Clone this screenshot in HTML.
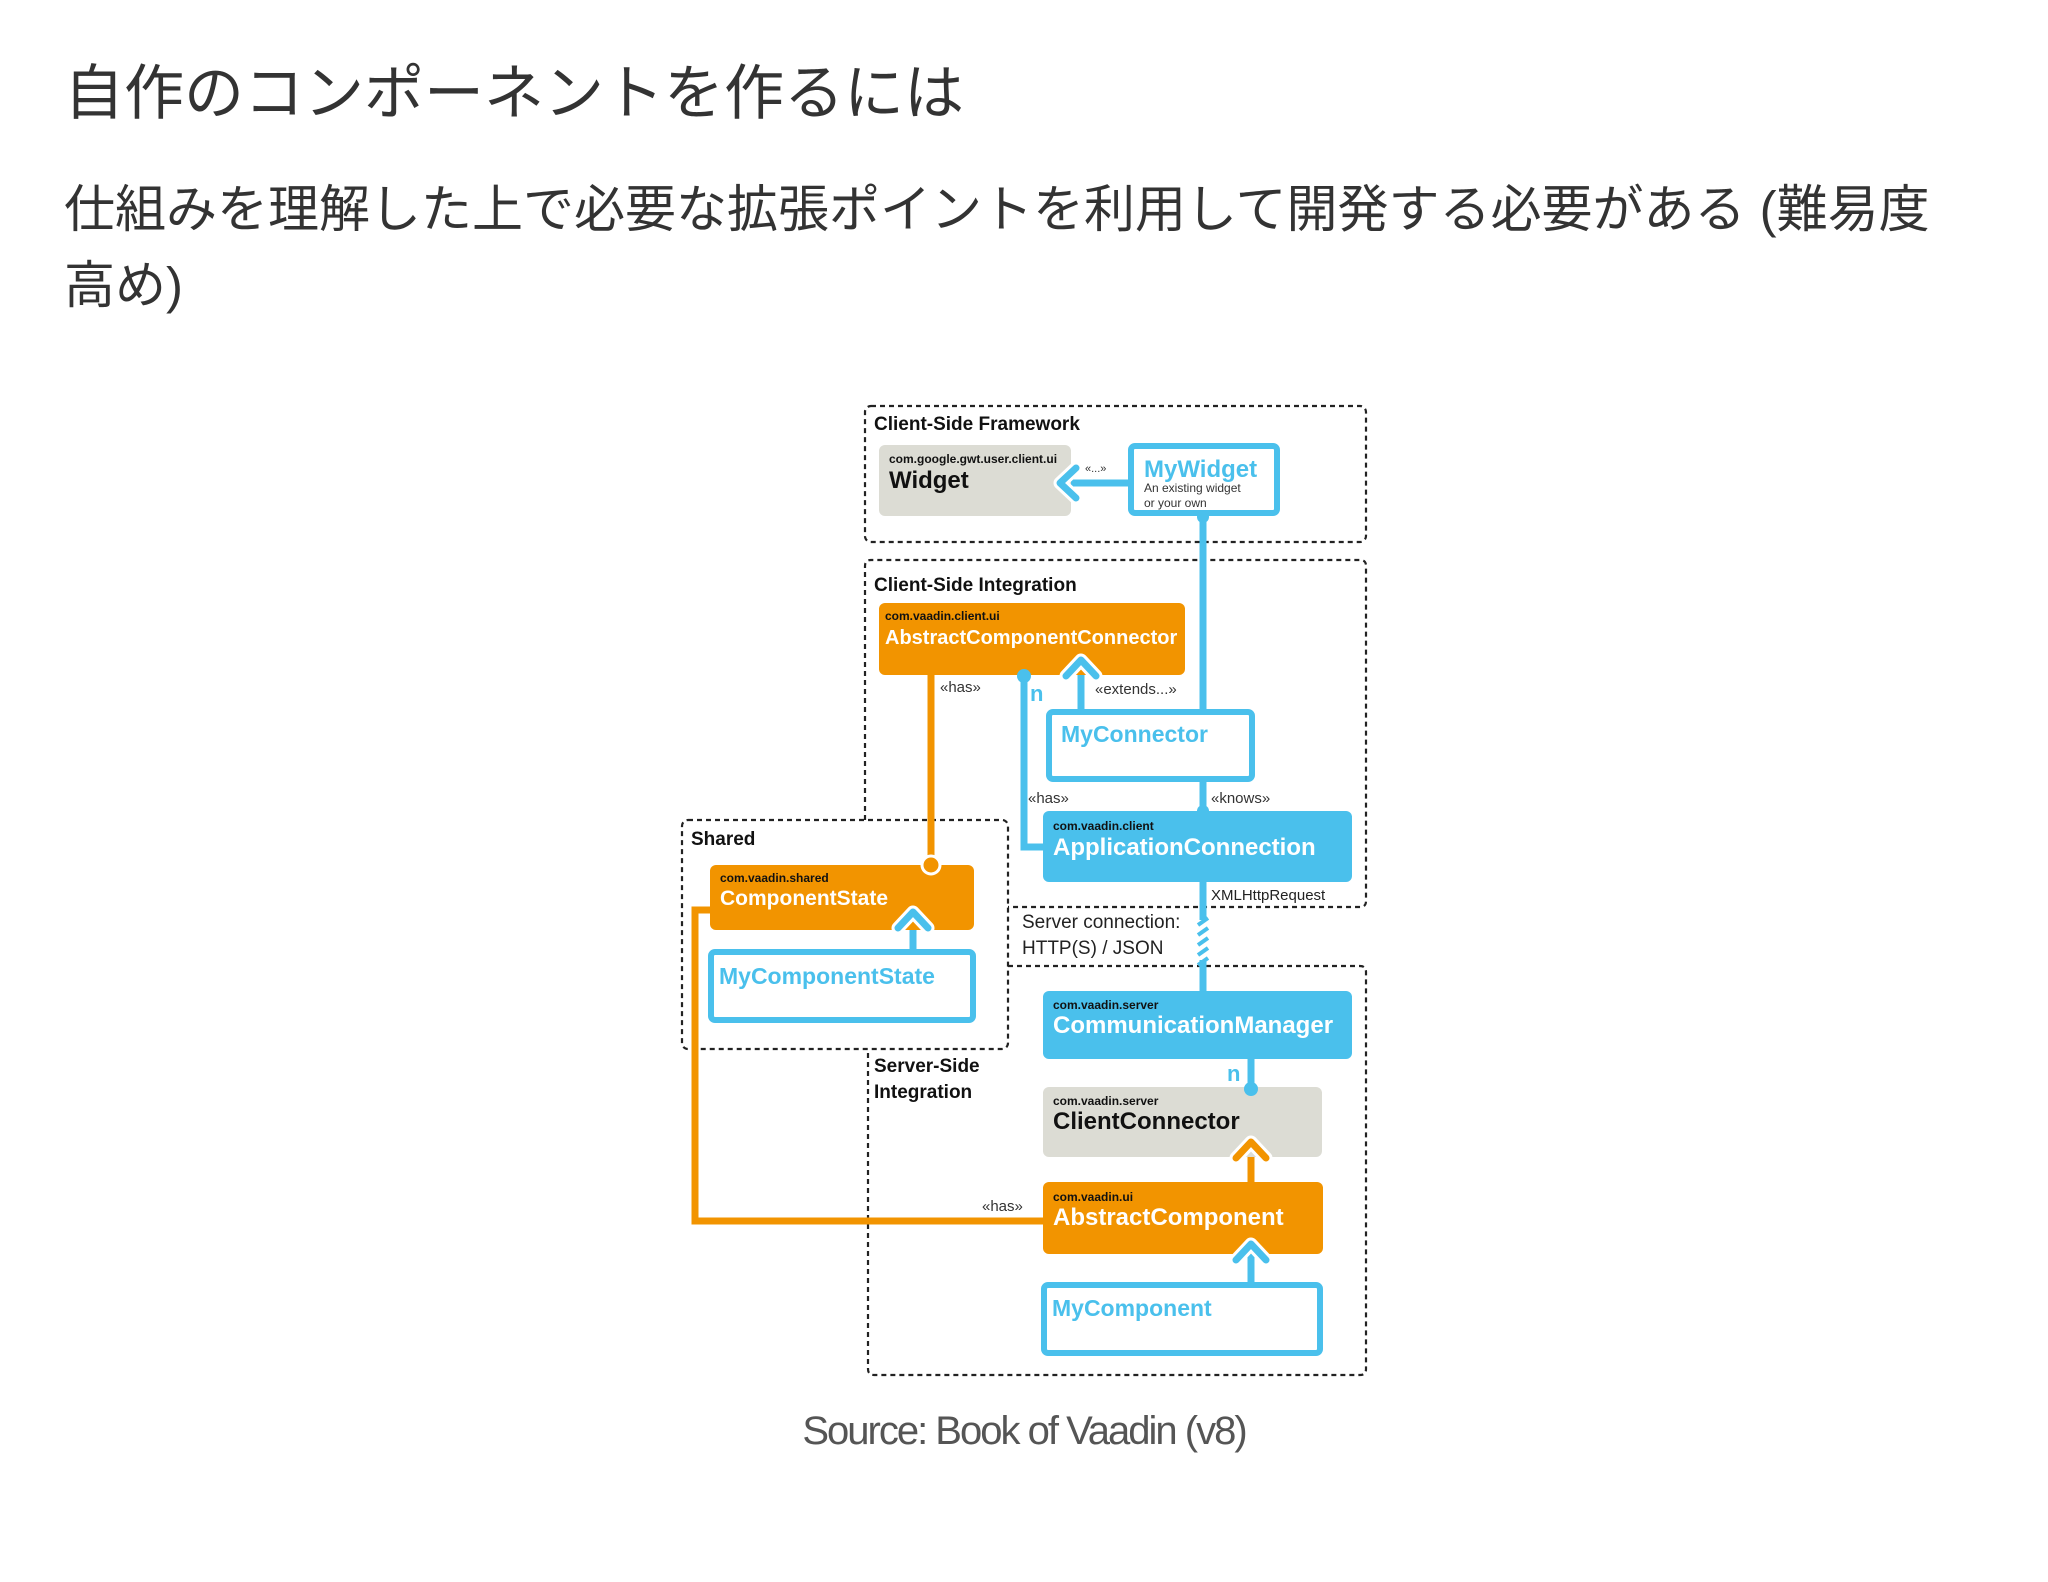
<!DOCTYPE html>
<html><head><meta charset="utf-8"><style>
html,body{margin:0;padding:0;background:#fff;width:2048px;height:1582px;overflow:hidden}
svg{display:block}
text{font-family:"Liberation Sans","Noto Sans CJK JP",sans-serif}
</style></head><body>
<svg width="2048" height="1582" viewBox="0 0 2048 1582" xmlns="http://www.w3.org/2000/svg">
<text x="64" y="114" font-size="60" fill="#333" font-family="Liberation Sans, Noto Sans CJK JP, sans-serif">自作のコンポーネントを作るには</text>
<text x="64" y="227" font-size="51" fill="#333">仕組みを理解した上で必要な拡張ポイントを利用して開発する必要がある (難易度</text>
<text x="64" y="303" font-size="51" fill="#333">高め)</text>

<g fill="none" stroke="#222" stroke-width="2.2" stroke-dasharray="5,4">
<rect x="865" y="406" width="501" height="136" rx="6"/>
<path d="M865 820 V566 Q865 560 871 560 H1360 Q1366 560 1366 566 V901 Q1366 907 1360 907 H1008"/>
<rect x="682" y="820" width="326" height="229" rx="6"/>
<path d="M1008 966 H1360 Q1366 966 1366 972 V1369 Q1366 1375 1360 1375 H874 Q868 1375 868 1369 V1049"/>
</g>

<g font-weight="bold" fill="#111" font-size="19">
<text x="874" y="430">Client-Side Framework</text>
<text x="874" y="591">Client-Side Integration</text>
<text x="691" y="845">Shared</text>
<text x="874" y="1072">Server-Side</text>
<text x="874" y="1098">Integration</text>
</g>

<!-- connectors -->
<g fill="none" stroke-width="7" stroke-linecap="butt">
<path d="M1203 516 V711 M1203 782 V812 M1203 882 V920 M1203 960 V992" stroke="#4ac0ec"/>
<path d="M1024 675 V847 H1045" stroke="#4ac0ec"/>
<path d="M1081 709 V660" stroke="#4ac0ec"/>
<path d="M1128 483 H1060" stroke="#4ac0ec"/>
<path d="M913 949 V912" stroke="#4ac0ec"/>
<path d="M1251 1059 V1089" stroke="#4ac0ec"/>
<path d="M1251 1282 V1244" stroke="#4ac0ec"/>
<path d="M931 675 V865" stroke="#f29400"/>
<path d="M1045 1221 H695 V910 H712" stroke="#f29400"/>
<path d="M1251 1182 V1142" stroke="#f29400"/>
</g>
<!-- striped segment -->
<g stroke="#4ac0ec" stroke-width="4">
<path d="M1198 925 L1208 918 M1198 935 L1208 928 M1198 945 L1208 938 M1198 955 L1208 948 M1198 965 L1208 958"/>
</g>

<!-- boxes -->
<rect x="879" y="445" width="192" height="71" rx="6" fill="#dcdcd4"/>
<text x="889" y="463" font-size="12" font-weight="bold" fill="#111">com.google.gwt.user.client.ui</text>
<text x="889" y="488" font-size="24" font-weight="bold" fill="#111">Widget</text>
<text x="1085" y="472" font-size="11" fill="#333">«...»</text>
<rect x="1131" y="446" width="146" height="67" rx="4" fill="#fff" stroke="#4ac0ec" stroke-width="6"/>
<text x="1144" y="477" font-size="24" font-weight="bold" fill="#4ac0ec">MyWidget</text>
<text x="1144" y="492" font-size="12" fill="#333">An existing widget</text>
<text x="1144" y="507" font-size="12" fill="#333">or your own</text>

<rect x="879" y="603" width="306" height="72" rx="6" fill="#f29400"/>
<text x="885" y="620" font-size="12" font-weight="bold" fill="#111">com.vaadin.client.ui</text>
<text x="885" y="644" font-size="20" font-weight="bold" fill="#fff">AbstractComponentConnector</text>
<text x="940" y="692" font-size="15" fill="#333">«has»</text>
<text x="1095" y="694" font-size="15" fill="#333">«extends...»</text>
<text x="1030" y="701" font-size="22" font-weight="bold" fill="#4ac0ec">n</text>

<rect x="1049" y="712" width="203" height="67" rx="4" fill="#fff" stroke="#4ac0ec" stroke-width="6"/>
<text x="1061" y="742" font-size="23" font-weight="bold" fill="#4ac0ec">MyConnector</text>
<text x="1028" y="803" font-size="15" fill="#333">«has»</text>
<text x="1211" y="803" font-size="15" fill="#333">«knows»</text>

<rect x="1043" y="811" width="309" height="71" rx="6" fill="#4ac0ec"/>
<text x="1053" y="830" font-size="12" font-weight="bold" fill="#111">com.vaadin.client</text>
<text x="1053" y="855" font-size="24" font-weight="bold" fill="#fff">ApplicationConnection</text>
<text x="1211" y="900" font-size="15" fill="#222">XMLHttpRequest</text>
<text x="1022" y="928" font-size="19" fill="#222">Server connection:</text>
<text x="1022" y="954" font-size="19" fill="#222">HTTP(S) / JSON</text>

<rect x="710" y="865" width="264" height="65" rx="6" fill="#f29400"/>
<text x="720" y="882" font-size="12" font-weight="bold" fill="#111">com.vaadin.shared</text>
<text x="720" y="905" font-size="21" font-weight="bold" fill="#fff">ComponentState</text>
<rect x="711" y="952" width="262" height="68" rx="4" fill="#fff" stroke="#4ac0ec" stroke-width="6"/>
<text x="719" y="984" font-size="23" font-weight="bold" fill="#4ac0ec">MyComponentState</text>

<rect x="1043" y="991" width="309" height="68" rx="6" fill="#4ac0ec"/>
<text x="1053" y="1009" font-size="12" font-weight="bold" fill="#111">com.vaadin.server</text>
<text x="1053" y="1033" font-size="24" font-weight="bold" fill="#fff">CommunicationManager</text>
<text x="1227" y="1081" font-size="22" font-weight="bold" fill="#4ac0ec">n</text>

<rect x="1043" y="1087" width="279" height="70" rx="6" fill="#dcdcd4"/>
<text x="1053" y="1105" font-size="12" font-weight="bold" fill="#111">com.vaadin.server</text>
<text x="1053" y="1129" font-size="24" font-weight="bold" fill="#111">ClientConnector</text>

<rect x="1043" y="1182" width="280" height="72" rx="6" fill="#f29400"/>
<text x="1053" y="1201" font-size="12" font-weight="bold" fill="#111">com.vaadin.ui</text>
<text x="1053" y="1225" font-size="24" font-weight="bold" fill="#fff">AbstractComponent</text>
<text x="982" y="1211" font-size="15" fill="#333">«has»</text>

<rect x="1044" y="1285" width="276" height="68" rx="4" fill="#fff" stroke="#4ac0ec" stroke-width="6"/>
<text x="1052" y="1316" font-size="23" font-weight="bold" fill="#4ac0ec">MyComponent</text>

<!-- dots -->
<circle cx="1024" cy="676" r="7" fill="#4ac0ec"/>
<circle cx="931" cy="865" r="9" fill="#f29400" stroke="#fff" stroke-width="3"/>
<circle cx="1251" cy="1089" r="7" fill="#4ac0ec"/>
<circle cx="1203" cy="517" r="6" fill="#4ac0ec"/>
<circle cx="1203" cy="811" r="6" fill="#4ac0ec"/>

<!-- arrowheads -->
<g fill="none" stroke-width="7" stroke-linecap="round" stroke-linejoin="round">
<path d="M1076 468 L1060 483 L1076 498" stroke="#fff" stroke-width="13"/>
<path d="M1076 468 L1060 483 L1076 498" stroke="#4ac0ec"/>
<path d="M1066 676 L1081 660 L1096 676" stroke="#fff" stroke-width="13"/>
<path d="M1066 676 L1081 660 L1096 676" stroke="#4ac0ec"/>
<path d="M898 928 L913 912 L928 928" stroke="#fff" stroke-width="13"/>
<path d="M898 928 L913 912 L928 928" stroke="#4ac0ec"/>
<path d="M1236 1158 L1251 1142 L1266 1158" stroke="#fff" stroke-width="13"/>
<path d="M1236 1158 L1251 1142 L1266 1158" stroke="#f29400"/>
<path d="M1236 1260 L1251 1244 L1266 1260" stroke="#fff" stroke-width="13"/>
<path d="M1236 1260 L1251 1244 L1266 1260" stroke="#4ac0ec"/>
</g>

<text x="1024" y="1444" font-size="40" fill="#555" text-anchor="middle" letter-spacing="-2">Source: Book of Vaadin (v8)</text>
</svg>
</body></html>
